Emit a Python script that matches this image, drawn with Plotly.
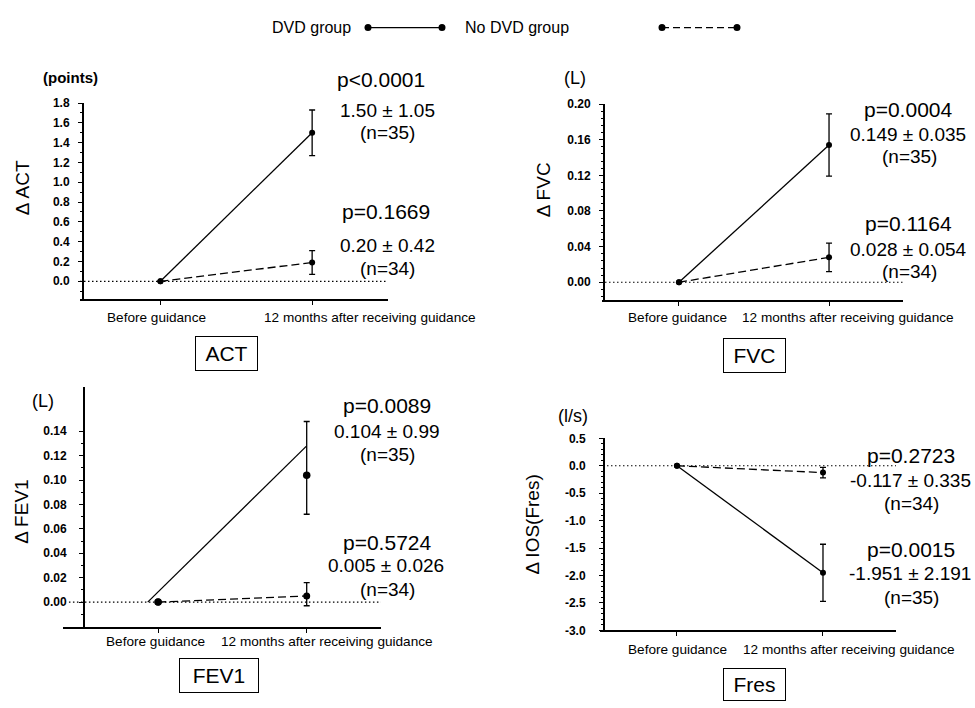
import plotly.graph_objects as go

W, H = 975, 708

# ---------------- data ----------------
categories = ["Before guidance", "12 months after receiving guidance"]
cat_pos = [0, 1]

act_dvd = [0, 1.50]
act_dvd_err = [0, 0.23]
act_nodvd = [0, 0.19]
act_nodvd_err = [0, 0.12]

fvc_dvd = [0, 0.154]
fvc_dvd_err = [0, 0.035]
fvc_nodvd = [0, 0.028]
fvc_nodvd_err = [0, 0.016]

fev1_dvd = [0, 0.104]
fev1_dvd_err_plus = [0, 0.044]
fev1_dvd_err_minus = [0, 0.032]
fev1_dvd_line_x = [-0.07, 1]
fev1_dvd_line_y = [0, 0.128]
fev1_nodvd = [0, 0.005]
fev1_nodvd_err_plus = [0, 0.011]
fev1_nodvd_err_minus = [0, 0.008]

fres_dvd = [0, -1.95]
fres_dvd_err = [0, 0.52]
fres_nodvd = [0, -0.125]
fres_nodvd_err = [0, 0.095]

act_ticks = [0.0, 0.2, 0.4, 0.6, 0.8, 1.0, 1.2, 1.4, 1.6, 1.8]
act_ticktext = ["0.0", "0.2", "0.4", "0.6", "0.8", "1.0", "1.2", "1.4", "1.6", "1.8"]
fvc_ticks = [0.0, 0.04, 0.08, 0.12, 0.16, 0.20]
fvc_ticktext = ["0.00", "0.04", "0.08", "0.12", "0.16", "0.20"]
fev1_ticks = [0.0, 0.02, 0.04, 0.06, 0.08, 0.10, 0.12, 0.14]
fev1_ticktext = ["0.00", "0.02", "0.04", "0.06", "0.08", "0.10", "0.12", "0.14"]
fev1_minor = [-0.01, 0.01, 0.03, 0.05, 0.07, 0.09, 0.11, 0.13]
fres_ticks = [-3.0, -2.5, -2.0, -1.5, -1.0, -0.5, 0.0, 0.5]
fres_ticktext = ["-3.0", "-2.5", "-2.0", "-1.5", "-1.0", "-0.5", "0.0", "0.5"]

act_stats = ["p<0.0001", "1.50 ± 1.05", "(n=35)", "p=0.1669", "0.20 ± 0.42", "(n=34)"]
fvc_stats = ["p=0.0004", "0.149 ± 0.035", "(n=35)", "p=0.1164", "0.028 ± 0.054", "(n=34)"]
fev1_stats = ["p=0.0089", "0.104 ± 0.99", "(n=35)", "p=0.5724", "0.005 ± 0.026", "(n=34)"]
fres_stats = ["p=0.2723", "-0.117 ± 0.335", "(n=34)", "p=0.0015", "-1.951 ± 2.191", "(n=35)"]

legend_labels = ["DVD group", "No DVD group"]

# ---------------- styling ----------------
FONT = "Liberation Sans, Arial, sans-serif"
BLACK = "#000000"
DASH = "8px,4px"
DOT = "1.5px,2.5px"


def px(x):
    return x / W


def py(y):
    return 1 - y / H


fig = go.Figure()

panels = [
    dict(k="", xd=(80, 388), yd=(98, 298), ypos=83, xr=[-0.53, 1.5], yr=[-0.18, 1.8],
         ticks=act_ticks, ticktext=act_ticktext, minor=dict(dtick=0.1, tick0=0),
         standoff=6),
    dict(k="2", xd=(602, 903), yd=(99, 299), ypos=604, xr=[-0.513, 1.493], yr=[-0.02, 0.20],
         ticks=fvc_ticks, ticktext=fvc_ticktext, minor=dict(dtick=0.008, tick0=0),
         standoff=6),
    dict(k="3", xd=(63, 381), yd=(388, 632), ypos=84, xr=[-0.64, 1.5], yr=[-0.02, 0.176],
         ticks=fev1_ticks, ticktext=fev1_ticktext, minor=dict(tickmode="array", tickvals=fev1_minor),
         standoff=10),
    dict(k="4", xd=(600, 896), yd=(440, 636), ypos=604, xr=[-0.527, 1.5], yr=[-3.0, 0.5],
         ticks=fres_ticks, ticktext=fres_ticktext, minor=dict(dtick=0.1, tick0=0),
         standoff=11),
]

layout = {}
for p in panels:
    k = p["k"]
    layout["xaxis" + k] = dict(
        domain=[px(p["xd"][0]), px(p["xd"][1])],
        range=p["xr"], anchor="y" + k,
        showline=True, linecolor=BLACK, linewidth=2,
        tickmode="array", tickvals=cat_pos, showticklabels=False,
        ticks="outside", ticklen=4, tickwidth=1, tickcolor=BLACK,
        showgrid=False, zeroline=False, fixedrange=True,
    )
    minor = dict(ticks="outside", ticklen=2, tickwidth=1, tickcolor=BLACK, showgrid=False)
    minor.update(p["minor"])
    layout["yaxis" + k] = dict(
        domain=[py(p["yd"][1]), py(p["yd"][0])],
        range=p["yr"], anchor="free", position=px(p["ypos"]),
        showline=True, linecolor=BLACK, linewidth=2,
        tickmode="array", tickvals=p["ticks"], ticktext=p["ticktext"],
        ticks="outside", ticklen=4, tickwidth=1, tickcolor=BLACK,
        tickfont=dict(family=FONT, size=12, color=BLACK, weight="bold"),
        ticklabelstandoff=p["standoff"],
        minor=minor,
        showgrid=False, zeroline=False, fixedrange=True,
    )


def add_series(k, y, plus, minus, dash, size):
    fig.add_trace(go.Scatter(
        x=cat_pos, y=y, mode="lines+markers",
        xaxis="x" + k, yaxis="y" + k,
        line=dict(color=BLACK, width=1.3, dash=dash),
        marker=dict(color=BLACK, size=size),
        error_y=dict(type="data", array=plus, arrayminus=minus, symmetric=False,
                     color=BLACK, thickness=1.3, width=3),
        showlegend=False, hoverinfo="skip",
    ))


# ACT
add_series("", act_nodvd, act_nodvd_err, act_nodvd_err, DASH, 6)
add_series("", act_dvd, act_dvd_err, act_dvd_err, "solid", 6)
# FVC
add_series("2", fvc_nodvd, fvc_nodvd_err, fvc_nodvd_err, DASH, 6)
add_series("2", fvc_dvd, fvc_dvd_err, fvc_dvd_err, "solid", 6)
# FEV1
add_series("3", fev1_nodvd, fev1_nodvd_err_plus, fev1_nodvd_err_minus, DASH, 7)
fig.add_trace(go.Scatter(
    x=fev1_dvd_line_x, y=fev1_dvd_line_y, mode="lines", xaxis="x3", yaxis="y3",
    line=dict(color=BLACK, width=1.3), showlegend=False, hoverinfo="skip"))
fig.add_trace(go.Scatter(
    x=cat_pos, y=fev1_dvd, mode="markers", xaxis="x3", yaxis="y3",
    marker=dict(color=BLACK, size=7.5),
    error_y=dict(type="data", array=fev1_dvd_err_plus, arrayminus=fev1_dvd_err_minus,
                 symmetric=False, color=BLACK, thickness=1.3, width=3),
    showlegend=False, hoverinfo="skip"))
# Fres
add_series("4", fres_nodvd, fres_nodvd_err, fres_nodvd_err, DASH, 6)
add_series("4", fres_dvd, fres_dvd_err, fres_dvd_err, "solid", 6)

shapes = []
shapes.append(dict(type="line", xref="x domain", yref="y", x0=0, x1=1, y0=0, y1=0,
                   line=dict(color=BLACK, width=1.2, dash=DOT)))
shapes.append(dict(type="line", xref="x2 domain", yref="y2", x0=0.01, x1=1, y0=0, y1=0,
                   line=dict(color=BLACK, width=1.2, dash=DOT)))
shapes.append(dict(type="line", xref="x3", yref="y3", x0=-0.6, x1=1.5, y0=0, y1=0,
                   line=dict(color=BLACK, width=1.2, dash=DOT)))
shapes.append(dict(type="line", xref="x4 domain", yref="y4", x0=0.01, x1=1, y0=0, y1=0,
                   line=dict(color=BLACK, width=1.2, dash=DOT)))

# legend (drawn)
LY = 21
for (x0, x1, dash) in [(368, 442, "solid"), (662, 737, "7px,4px")]:
    shapes.append(dict(type="line", xref="paper", yref="paper", x0=px(x0), x1=px(x1),
                       y0=py(LY), y1=py(LY), line=dict(color=BLACK, width=1.3, dash=dash)))
    for xc in (x0, x1):
        shapes.append(dict(type="circle", xref="paper", yref="paper",
                           xsizemode="pixel", ysizemode="pixel",
                           xanchor=px(xc), yanchor=py(LY), x0=-3.5, x1=3.5, y0=-3.5, y1=3.5,
                           fillcolor=BLACK, line=dict(color=BLACK, width=0)))

annotations = []


def txt(x, y, text, size, bold=False, angle=0, xanchor="center"):
    annotations.append(dict(
        xref="paper", yref="paper", x=px(x), y=py(y), text=text, showarrow=False,
        xanchor=xanchor, yanchor="middle", textangle=angle,
        font=dict(family=FONT, size=size, color=BLACK, weight="bold" if bold else "normal"),
    ))


txt(311, LY, legend_labels[0], 16)
txt(517, LY, legend_labels[1], 16)

txt(70, 72, "(points)", 15, bold=True)
txt(575, 72, "(L)", 18)
txt(43, 402, "(L)", 18)
txt(573, 417, "(l/s)", 18)

txt(22, 185, "Δ ACT", 19, angle=-90)
txt(543, 187, "Δ FVC", 19, angle=-90)
txt(22, 515, "Δ FEV1", 19, angle=-90)
txt(533, 528, "Δ IOS(Fres)", 19, angle=-90)

stat_layout = [
    (act_stats, [(381, 74), (387, 106), (387, 128), (386, 209), (387, 243), (387, 267)]),
    (fvc_stats, [(908, 105), (908, 130), (909, 153), (908, 221), (908, 247), (909, 270)]),
    (fev1_stats, [(387, 407), (387, 433), (387, 457), (387, 546), (386, 570), (387, 594)]),
    (fres_stats, [(911, 458), (910, 483), (911, 507), (911, 553), (910, 578), (911, 602)]),
]
for texts, pos in stat_layout:
    for i, (t, (x, y)) in enumerate(zip(texts, pos)):
        txt(x, y, t, 21 if i % 3 == 0 else 19)

for k, ylab_px, shifts in [("", 317, [-4, 58]), ("2", 317, [-1, 19]),
                           ("3", 647, [-3, 20]), ("4", 655, [1, 26])]:
    for i, c in enumerate(categories):
        annotations.append(dict(
            xref="x" + k, yref="paper", x=cat_pos[i], y=py(ylab_px), xshift=shifts[i],
            text=c, showarrow=False, xanchor="center", yanchor="middle",
            font=dict(family=FONT, size=13.6, color=BLACK),
        ))

for name, xc, yc, w, h in [("ACT", 226.5, 353.5, 63, 35), ("FVC", 754.5, 355.5, 63, 35),
                           ("FEV1", 219, 681.5, 80, 35), ("Fres", 754.5, 691, 63, 33)]:
    annotations.append(dict(
        xref="paper", yref="paper", x=px(xc), y=py(yc), text=name, showarrow=False,
        xanchor="center", yanchor="middle", width=w - 2, height=h - 2,
        bordercolor=BLACK, borderwidth=1, borderpad=0, bgcolor="white",
        font=dict(family=FONT, size=21, color=BLACK),
    ))

fig.update_layout(
    width=W, height=H, autosize=False,
    margin=dict(l=0, r=0, t=0, b=0),
    paper_bgcolor="white", plot_bgcolor="white",
    shapes=shapes, annotations=annotations, showlegend=False,
    **layout,
)

fig.write_html(
    "out.html",
    config={"displayModeBar": False},
    post_script="document.body.style.margin='0';document.body.style.overflow='hidden';",
)
